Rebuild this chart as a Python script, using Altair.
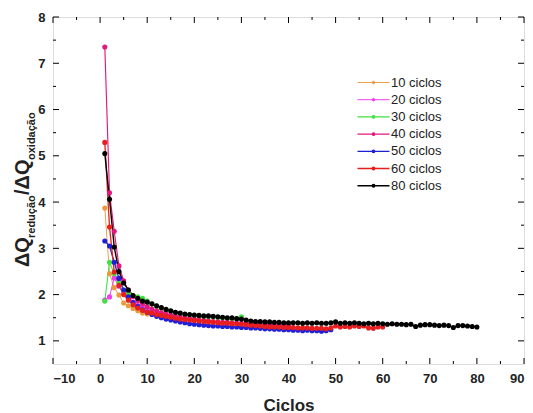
import altair as alt
import pandas as pd

# ---------------- data ----------------
series_names = ["10 ciclos", "20 ciclos", "30 ciclos", "40 ciclos",
                "50 ciclos", "60 ciclos", "80 ciclos"]

s10 = [3.87, 2.45, 2.15, 1.99, 1.82, 1.76, 1.70, 1.65, 1.60, 1.58]
s20 = [1.88, 1.95, 2.36, 2.18, 2.02, 1.92, 1.84, 1.77, 1.72, 1.67,
       1.63, 1.60, 1.58, 1.56, 1.54, 1.52, 1.50, 1.49, 1.48, 1.47]
s30 = [1.86, 2.70, 2.45, 2.25, 2.10, 2.02, 1.97, 1.95, 1.92, 1.86,
       1.80, 1.75, 1.71, 1.67, 1.64, 1.61, 1.59, 1.57, 1.56, 1.55,
       1.54, 1.53, 1.52, 1.52, 1.51, 1.50, 1.49, 1.48, 1.47, 1.52]
s40 = [7.35, 4.20, 3.37, 2.62, 2.30, 2.10, 1.96, 1.87, 1.80, 1.74,
       1.69, 1.65, 1.61, 1.58, 1.55, 1.53, 1.51, 1.49, 1.47, 1.46,
       1.45, 1.44, 1.43, 1.42, 1.41, 1.40, 1.40, 1.39, 1.38, 1.38,
       1.37, 1.37, 1.36, 1.36, 1.35, 1.35, 1.35, 1.34, 1.34, 1.34]
s50 = [3.16, 3.05, 2.70, 2.35, 2.10, 1.95, 1.83, 1.74, 1.67, 1.62,
       1.57, 1.53, 1.50, 1.47, 1.45, 1.43, 1.41, 1.39, 1.37, 1.36,
       1.35, 1.34, 1.33, 1.32, 1.32, 1.31, 1.31, 1.30, 1.30, 1.29,
       1.29, 1.28, 1.28, 1.27, 1.26, 1.26, 1.25, 1.25, 1.24, 1.24,
       1.23, 1.23, 1.22, 1.23, 1.22, 1.22, 1.21, 1.22, 1.24]
s60 = [5.29, 3.46, 2.49, 2.20, 2.00, 1.88, 1.78, 1.71, 1.66, 1.62,
       1.60, 1.57, 1.55, 1.53, 1.51, 1.49, 1.47, 1.46, 1.45, 1.44,
       1.43, 1.42, 1.41, 1.40, 1.39, 1.38, 1.38, 1.37, 1.37, 1.36,
       1.35, 1.34, 1.33, 1.32, 1.31, 1.30, 1.30, 1.30, 1.29, 1.29,
       1.29, 1.28, 1.28, 1.28, 1.27, 1.27, 1.27, 1.26, 1.28, 1.32,
       1.30, 1.31, 1.30, 1.32, 1.31, 1.32, 1.28, 1.27, 1.30, 1.30]
s80 = [5.05, 4.06, 3.03, 2.50, 2.25, 2.10, 1.98, 1.92, 1.86, 1.84,
       1.80, 1.76, 1.72, 1.68, 1.65, 1.62, 1.60, 1.58, 1.57, 1.56,
       1.55, 1.54, 1.54, 1.53, 1.52, 1.51, 1.50, 1.50, 1.48, 1.47,
       1.45, 1.43, 1.42, 1.42, 1.41, 1.41, 1.40, 1.40, 1.39, 1.39,
       1.39, 1.39, 1.38, 1.39, 1.38, 1.39, 1.38, 1.38, 1.39, 1.41,
       1.38, 1.39, 1.38, 1.39, 1.38, 1.37, 1.38, 1.37, 1.38, 1.37,
       1.36, 1.37, 1.36, 1.36, 1.35, 1.36, 1.31, 1.34, 1.35, 1.35,
       1.34, 1.33, 1.34, 1.33, 1.29, 1.33, 1.33, 1.32, 1.31, 1.30]

all_series = [s10, s20, s30, s40, s50, s60, s80]

x_major = [-10, 0, 10, 20, 30, 40, 50, 60, 70, 80, 90]
x_minor = [-5, 5, 15, 25, 35, 45, 55, 65, 75, 85]
y_major = [1, 2, 3, 4, 5, 6, 7, 8]
y_minor = [1.5, 2.5, 3.5, 4.5, 5.5, 6.5, 7.5]

# ---------------- styles ----------------
colors = ["#E89A3C", "#F23BF0", "#3FE23F", "#E0197D", "#1F1FD8", "#E81E1E", "#000000"]
widths = [0.9, 1.4, 1.6, 1.6, 0.9, 0.9, 0.9]
FONT = "Liberation Sans"
PW, PH = 471, 347

rows = []
for name, vals in zip(series_names, all_series):
    for i, v in enumerate(vals):
        rows.append({"serie": name, "ciclo": i + 1, "ratio": v})
df = pd.DataFrame(rows)

xscale = alt.Scale(domain=[-10, 90], nice=False, zero=False)
yscale = alt.Scale(domain=[0.5, 8], nice=False, zero=False)

xaxis = alt.Axis(values=x_major, title="Ciclos", ticks=False,
                 domain=False, grid=False, labelFont=FONT,
                 labelFontSize=13, labelFontWeight="bold",
                 labelColor="#222222", labelPadding=8,
                 titleFont=FONT, titleFontSize=17,
                 titleFontWeight="bold", titleColor="#222222",
                 titlePadding=12)
yaxis = alt.Axis(values=y_major, title=None, ticks=False,
                 domain=False, grid=False, labelFont=FONT,
                 labelFontSize=13, labelFontWeight="bold",
                 labelColor="#222222", labelPadding=8)

legend_path = ("M-4,0H4M0.32,0A0.32,0.32,0,1,1,-0.32,0"
               "A0.32,0.32,0,1,1,0.32,0Z")
leg = alt.Legend(title=None, orient="none", legendX=314, legendY=59,
                 symbolType=legend_path, symbolSize=64, labelFont=FONT,
                 labelFontSize=13, labelOffset=11, rowPadding=3.2, padding=0,
                 labelColor="#222222")

base = alt.Chart(df)
lines = base.mark_line().encode(
    x=alt.X("ciclo:Q", scale=xscale, axis=xaxis),
    y=alt.Y("ratio:Q", scale=yscale, axis=yaxis),
    stroke=alt.Stroke("serie:N", scale=alt.Scale(domain=series_names, range=colors), legend=leg),
    strokeWidth=alt.StrokeWidth("serie:N", scale=alt.Scale(domain=series_names, range=widths), legend=leg),
    detail="serie:N",
)
points = base.mark_point(filled=True, size=26, opacity=1).encode(
    x=alt.X("ciclo:Q", scale=xscale, axis=xaxis),
    y=alt.Y("ratio:Q", scale=yscale, axis=yaxis),
    fill=alt.Fill("serie:N", scale=alt.Scale(domain=series_names, range=colors), legend=leg),
)

def xticks(vals, y0, y1):
    return alt.Chart(pd.DataFrame({"ciclo": vals})).mark_rule(color="black", strokeWidth=1).encode(
        x=alt.X("ciclo:Q", scale=xscale, axis=xaxis), y=alt.value(y0), y2=alt.value(y1))

def yticks(vals, x0, x1):
    return alt.Chart(pd.DataFrame({"ratio": vals})).mark_rule(color="black", strokeWidth=1).encode(
        y=alt.Y("ratio:Q", scale=yscale, axis=yaxis), x=alt.value(x0), x2=alt.value(x1))

ticks = [
    xticks(x_major, PH, PH - 6), xticks(x_minor, PH, PH - 3),
    xticks(x_major, 0, 6), xticks(x_minor, 0, 3),
    yticks(y_major, 0, 6), yticks(y_minor, 0, 3),
    yticks(y_major, PW, PW - 6), yticks(y_minor, PW, PW - 3),
]

def ytitle(text, size, xpos, ypos):
    return alt.Chart(pd.DataFrame({"t": [text]})).mark_text(
        angle=270, align="left", baseline="alphabetic", font=FONT,
        fontSize=size, fontWeight="bold", color="#222222"
    ).encode(text="t:N", x=alt.value(xpos), y=alt.value(ypos))

titles = [
    ytitle("ΔQ", 20, -24, 250),
    ytitle("redução", 11, -18, 221),
    ytitle("/ΔQ", 20, -24, 178),
    ytitle("oxidação", 11, -18, 143),
]

chart = alt.layer(lines, points, *ticks, *titles).properties(
    width=PW, height=PH,
    autosize=alt.AutoSizeParams(type="none"),
    padding={"left": 53, "top": 17, "right": 9, "bottom": 49},
).configure_view(stroke="black", strokeWidth=1).configure(background="white")

chart.save("out.html", embed_options={"renderer": "svg", "actions": False})
